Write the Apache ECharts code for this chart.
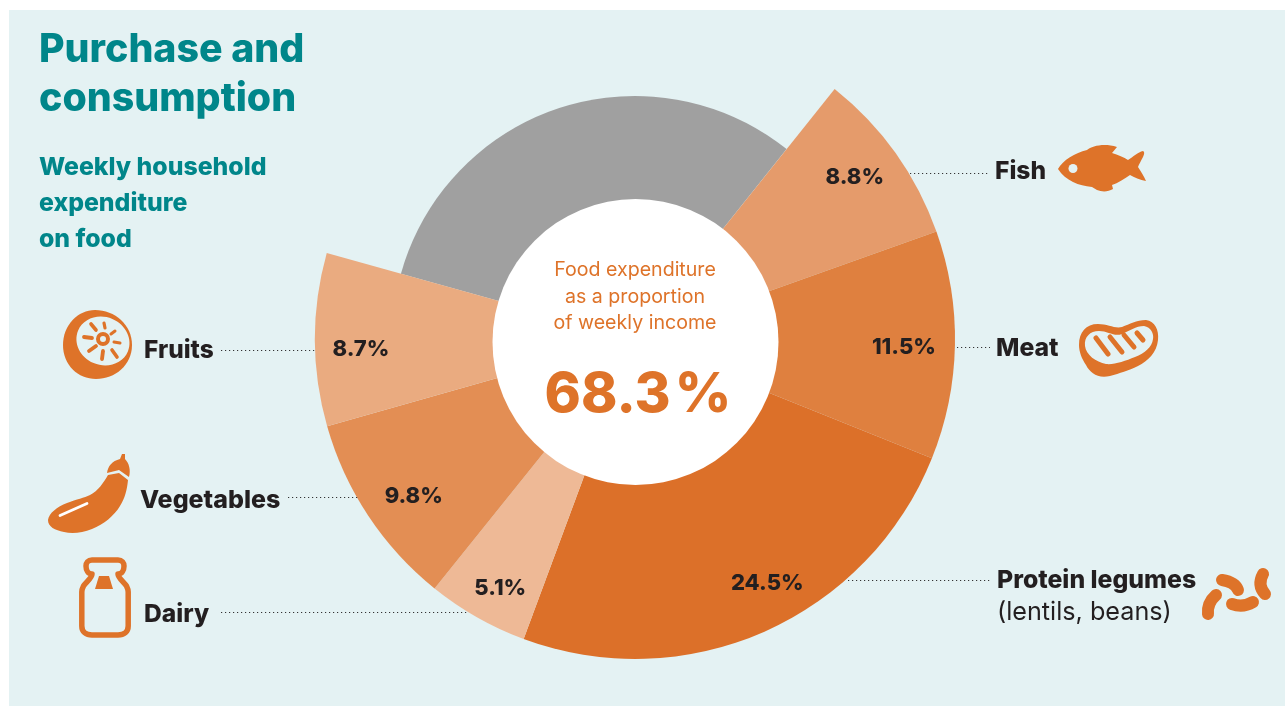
<!DOCTYPE html>
<html>
<head>
<meta charset="utf-8">
<title>Purchase and consumption</title>
<style>
  html, body { margin: 0; padding: 0; background: #ffffff; }
  #chart { width: 1285px; height: 706px; }
</style>
<script src="https://cdn.jsdelivr.net/npm/echarts@6/dist/echarts.min.js"></script>
</head>
<body>
<div id="chart"></div>
<script>
// Weekly household food spending, share of income per category (clockwise from Fish)
const categories = ['Fish', 'Meat', 'Protein legumes', 'Dairy', 'Vegetables', 'Fruits'];
const shares = [8.8, 11.5, 24.5, 5.1, 9.8, 8.7];
const restLabel = 'Other expenditure';
const restShare = 31.3;
const totalShare = 68.3;

const sliceColors = ['#E59B6B', '#DF803F', '#DC7029', '#EEB996', '#E38E54', '#EAAB80'];
const ORANGE = '#DE7329', TEAL = '#00868A', INK = '#231F20', PANEL = '#E4F2F3', GREY = '#A0A0A0';
const FONT = 'Inter, "Noto Sans", sans-serif';

const pieCenter = [635, 339];
const startAngle = 51.4;

// Slices in data order, with the remainder closing the circle
function sliceData(styleOf, labelOf) {
  const rows = categories.map((name, i) => ({
    name, value: shares[i], itemStyle: styleOf(i), label: labelOf ? labelOf(i) : undefined
  }));
  rows.push({
    name: restLabel, value: restShare, itemStyle: styleOf(-1),
    label: { show: false }
  });
  return rows;
}

const pieBase = {
  type: 'pie', center: pieCenter, startAngle, clockwise: true, silent: true,
  animation: false, minAngle: 0, avoidLabelOverlap: false, labelLine: { show: false }
};

// Small per-slice nudges for the percentage labels
const labelNudge = [[-4, -2], [-6, 3], [21, -7], [1, 10], [8, 6], [1, 10]];

// Text helper for graphic elements
function text(x, y, str, size, weight, color, align) {
  return {
    type: 'text', z: 20, silent: true, x, y,
    style: {
      text: str, fontFamily: FONT, fontSize: size, fontWeight: weight, fill: color,
      textAlign: align || 'left', textVerticalAlign: 'middle'
    }
  };
}

// Dotted leader from a percentage towards its category name
function leader(x1, x2, y) {
  return {
    type: 'line', z: 20, silent: true,
    shape: { x1, y1: y + 0.5, x2, y2: y + 0.5 },
    style: { stroke: '#333333', lineWidth: 1, lineDash: [1.2, 2.8] }
  };
}

// The graphic component knows shapes by name, so each icon outline is registered once
let shapeCount = 0;
function iconShape(d, style, z) {
  const name = 'iconShape' + (shapeCount++);
  echarts.graphic.registerShape(name, echarts.graphic.extendPath(d));
  return { type: name, z: z || 20, silent: true, style };
}
const fill = (d, color, z) => iconShape(d, { fill: color || ORANGE }, z);
const stroke = (d, width, color, z) => iconShape(d, {
  fill: 'none', stroke: color || ORANGE, lineWidth: width, lineCap: 'round', lineJoin: 'round'
}, z);

const fishIcon = [
  fill('M1058 169 C1063 160 1075 153 1087 150 C1092 146 1104 143 1117 147 L1112 153 C1118 155 1124 157 1128 160 C1133 157 1138 152 1143 151 C1145 152 1144 155 1143 157 C1141 161 1139 164 1138 167 C1141 172 1144 176 1146 181 C1140 180 1134 177 1130 175 C1124 179 1118 183 1112 185 L1113 189 C1108 192 1102 192 1097 190 L1092 187 C1085 186 1079 185 1073 182 C1067 179 1062 175 1058 169 Z'),
  { type: 'circle', z: 21, silent: true, shape: { cx: 1073, cy: 168.5, r: 4.5 }, style: { fill: PANEL } }
];

const meatIcon = [
  fill('M1079 345 C1079 332 1086 324 1098 324 C1108 324 1115 329 1122 327 C1130 324 1136 320 1146 320 C1155 321 1159 330 1158 340 C1157 352 1148 361 1138 366 C1128 371 1120 373 1110 376 C1098 379 1090 373 1086 365 C1082 359 1079 352 1079 345 Z'),
  fill('M1085 346 C1084 337 1090 331 1099 331 C1108 331 1114 337 1122 334 C1129 331 1136 326 1144 326 C1151 327 1154 334 1153 339 C1152 347 1145 353 1135 357 C1125 361 1114 365 1106 364 C1096 362 1086 355 1085 346 Z', PANEL, 21),
  stroke('M1096 338 L1108 354', 5, ORANGE, 22),
  stroke('M1110 337 L1122 352', 5, ORANGE, 22),
  stroke('M1124 335 L1134 347', 5, ORANGE, 22),
  stroke('M1137 333 L1143 340', 5, ORANGE, 22)
];

const beansIcon = [
  stroke('M1222 580 Q1235 582 1238 590', 12),
  stroke('M1263 574 Q1257 585 1265 594', 12),
  stroke('M1216 595 Q1207 603 1208 614', 12),
  stroke('M1232 604 Q1243 608 1253 602', 12)
];

const fruitIcon = [
  fill('M63 345 C63 325 78 310 95 310 C115 310 132 325 132 345 C132 365 115 379 96 379 C78 379 63 365 63 345 Z'),
  { type: 'ellipse', z: 21, silent: true, shape: { cx: 103, cy: 341, rx: 27, ry: 24 }, rotation: -0.4, originX: 103, originY: 341, style: { fill: PANEL } },
  { type: 'ring', z: 22, silent: true, shape: { cx: 103, cy: 339, r: 7, r0: 3 }, style: { fill: ORANGE } },
  stroke('M91 324 L96 330', 3.6, ORANGE, 22), stroke('M104 323 L105 328', 3.2, ORANGE, 22),
  stroke('M111 334 L115 331', 3, ORANGE, 22), stroke('M114 342 L120 343', 3, ORANGE, 22),
  stroke('M112 350 L117 357', 3.6, ORANGE, 22), stroke('M103 351 L102 359', 3.8, ORANGE, 22),
  stroke('M89 351 L96 346', 3.8, ORANGE, 22), stroke('M84 337 L92 338', 3.8, ORANGE, 22)
];

const aubergineIcon = [
  fill('M48 520 C49 513 57 507 67 503 C77 499 84 498 90 495 C98 491 104 482 108 475 L119 473 L128 480 C127 490 125 498 120 506 C114 516 104 524 92 529 C82 533 72 534 64 532 C55 530 48 527 48 520 Z'),
  fill('M107 473 C108 466 112 461 120 459 L122 454 L125 454 L125 459 C129 463 131 470 129 477 L119 470 Z'),
  stroke('M60 515.5 L87 503.5', 2.8, '#ffffff', 21)
];

const bottleIcon = [
  stroke('M92 560 L118 560 C122 560 124 563 124 566 C124 570 122 574 118 574 C118 578 124 582 126.5 586 C127.5 588 128.2 590 128.2 592 L128.2 626 C128.2 632 124 635 118 635 L92 635 C86 635 81.8 632 81.8 626 L81.8 592 C81.8 590 82.5 588 83.5 586 C86 582 92 578 92 574 C88 574 86 570 86 566 C86 563 88 560 92 560 Z', 5.5),
  fill('M99 576 L109 576 L113 589 L95 589 Z')
];

const option = {
  backgroundColor: '#ffffff',
  animation: false,
  graphic: [
    { type: 'rect', z: -1, silent: true, shape: { x: 9, y: 10, width: 1276, height: 696 }, style: { fill: PANEL } },
    { type: 'circle', z: 10, silent: true, shape: { cx: 635.5, cy: 342, r: 143 }, style: { fill: '#ffffff' } },

    text(39, 50, 'Purchase and', 39.3, 800, TEAL),
    text(39, 99, 'consumption', 39.3, 800, TEAL),
    text(39, 168, 'Weekly household', 24.8, 800, TEAL),
    text(39, 204, 'expenditure', 24.8, 800, TEAL),
    text(39, 240, 'on food', 24.8, 800, TEAL),

    text(635, 270.5, 'Food expenditure', 19.6, 400, ORANGE, 'center'),
    text(635, 297, 'as a proportion', 19.6, 400, ORANGE, 'center'),
    text(635, 323.5, 'of weekly income', 19.6, 400, ORANGE, 'center'),
    text(638, 395, totalShare.toFixed(1) + '\u200a%', 55, 800, ORANGE, 'center'),

    leader(910, 989, 173),
    leader(957, 990, 347),
    leader(848, 990, 580),
    leader(221, 468, 612),
    leader(288, 358, 497),
    leader(221, 315, 350),

    text(995, 172, categories[0], 24.6, 800, INK),
    text(996, 349, categories[1], 24.8, 800, INK),
    text(997, 581, categories[2], 24.8, 800, INK),
    text(997, 612, '(lentils, beans)', 25.2, 400, INK),
    text(144, 615, categories[3], 24.6, 800, INK),
    text(140, 500, categories[4], 25, 800, INK),
    text(144, 351, categories[5], 24.4, 800, INK),

    ...fishIcon, ...meatIcon, ...beansIcon, ...fruitIcon, ...aubergineIcon, ...bottleIcon
  ],
  series: [
    // Grey remainder sits on a shorter radius than the food slices
    Object.assign({}, pieBase, {
      radius: [0, 243], z: 2, label: { show: false },
      data: sliceData(i => ({ color: i < 0 ? GREY : 'rgba(0,0,0,0)' }))
    }),
    // Food slices
    Object.assign({}, pieBase, {
      radius: [0, 320], z: 3, label: { show: false },
      data: sliceData(i => ({ color: i < 0 ? 'rgba(0,0,0,0)' : sliceColors[i] }))
    }),
    // Ring that only carries the percentage labels, near the outer edge
    Object.assign({}, pieBase, {
      radius: [224, 320], z: 30,
      label: {
        show: true, position: 'inside', color: INK, fontFamily: FONT, fontSize: 22, fontWeight: 800,
        formatter: p => p.value.toFixed(1) + '%'
      },
      data: sliceData(
        () => ({ color: 'rgba(0,0,0,0)' }),
        i => ({ offset: labelNudge[i] })
      )
    })
  ]
};

echarts.init(document.getElementById('chart'), null, { renderer: 'canvas' }).setOption(option);
</script>
</body>
</html>
